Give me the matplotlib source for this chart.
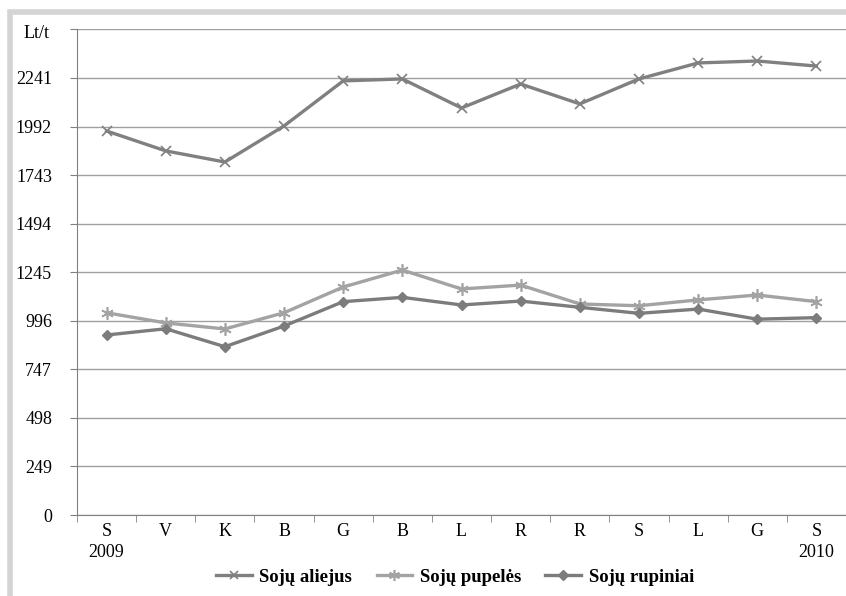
import matplotlib.pyplot as plt
from matplotlib.patches import Rectangle
from matplotlib.lines import Line2D

plt.rcParams["font.family"] = ["Liberation Serif", "DejaVu Serif"]

months = ["S\n2009", "V", "K", "B", "G", "B", "L", "R", "R", "S", "L", "G", "S\n2010"]
yticks = [0, 249, 498, 747, 996, 1245, 1494, 1743, 1992, 2241]

aliejus = [1969, 1867, 1810, 1995, 2226, 2236, 2087, 2210, 2108, 2236, 2318, 2328, 2302]
pupeles = [1037, 985, 954, 1037, 1169, 1256, 1159, 1179, 1082, 1073, 1103, 1128, 1094]
rupiniai = [923, 955, 863, 969, 1094, 1116, 1077, 1097, 1065, 1034, 1056, 1004, 1012]

fig = plt.figure(figsize=(8.46, 5.96), dpi=100)

# light gray frame around the picture
fig.patches.append(Rectangle((10 / 846, -0.1), 1.2, (596 - 12) / 596 + 0.1,
                             transform=fig.transFigure, fill=False,
                             edgecolor="#d4d4d4", linewidth=4, zorder=0))

ax = fig.add_axes([77 / 846, 1 - 515 / 596, 769 / 846, (515 - 29.4) / 596])

x = range(len(months))
ax.plot(x, aliejus, color="#808080", lw=2.4, marker="x", ms=7, mew=1.2, zorder=3)
ax.plot(x, pupeles, color="#a3a3a3", lw=2.4, marker=(6, 2, 0), ms=9, mew=1.2, zorder=3)
ax.plot(x, rupiniai, color="#7c7c7c", lw=2.4, marker="D", ms=5.5, zorder=3)

ax.set_xlim(-0.5, len(months) - 0.5)
ax.set_ylim(0, 2490)
ax.set_yticks(yticks + [2490])
ax.set_yticklabels([str(v) for v in yticks] + [""])
ax.yaxis.grid(True, color="#a0a0a0", lw=1)
ax.set_axisbelow(True)

ax.set_xticks(list(x))
ax.set_xticklabels(months, fontsize=13, linespacing=1.3, va="top")
ax.set_xticks([i + 0.5 for i in range(-1, len(months))], minor=True)
ax.tick_params(axis="x", which="major", length=0, pad=6)
ax.tick_params(axis="x", which="minor", length=5, color="#808080", direction="out")
ax.tick_params(axis="y", length=5, color="#808080", labelsize=13, pad=13)

for s in ["top", "right"]:
    ax.spines[s].set_visible(False)
ax.spines["left"].set_color("#808080")
ax.spines["bottom"].set_color("#808080")

fig.text(37 / 846, 1 - 33 / 596, "Lt/t", fontsize=13, ha="center", va="center")

handles = [
    Line2D([], [], color="#808080", lw=2.4, marker="x", ms=6, mew=1.2),
    Line2D([], [], color="#a3a3a3", lw=2.4, marker=(6, 2, 0), ms=8, mew=1.2),
    Line2D([], [], color="#7c7c7c", lw=2.4, marker="D", ms=5),
]
fig.legend(handles, ["Sojų aliejus", "Sojų pupelės", "Sojų rupiniai"],
           loc="center", bbox_to_anchor=(455 / 846, 1 - 577 / 596), ncol=3,
           frameon=False, handlelength=1.9, handletextpad=0.4, columnspacing=1.3,
           prop={"weight": "bold", "size": 13.5})

fig.savefig("out.png", dpi=100)
